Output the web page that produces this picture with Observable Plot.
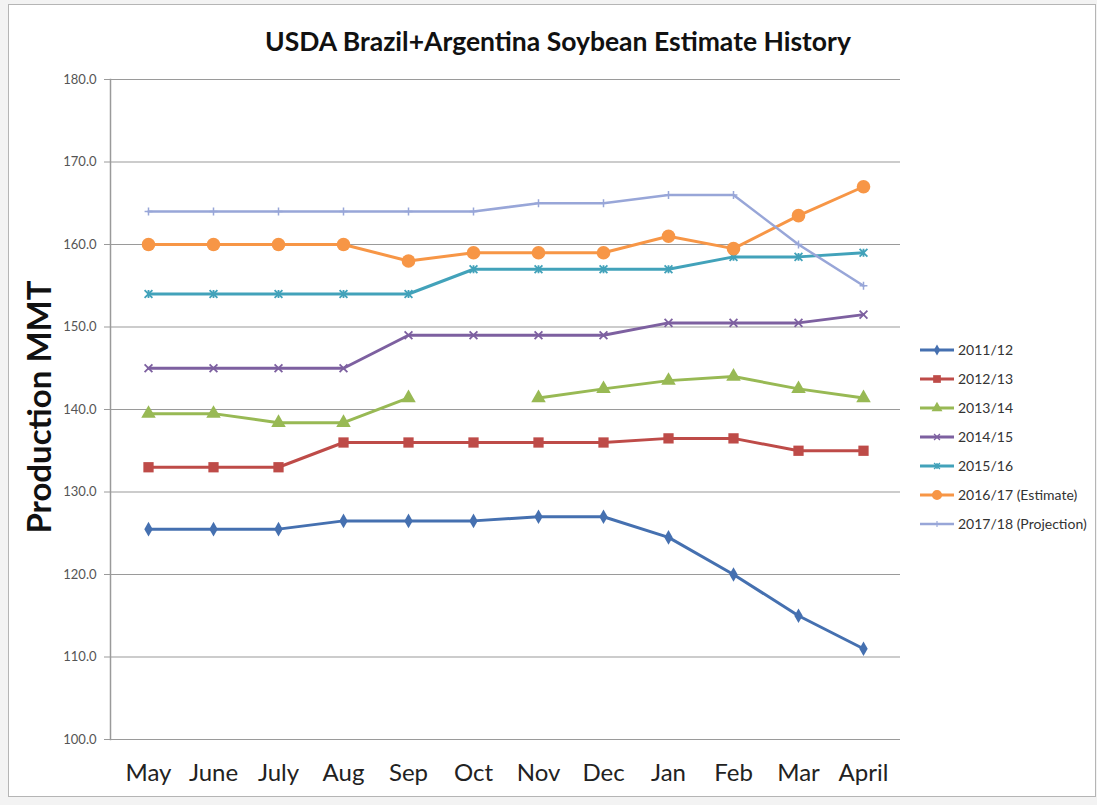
<!DOCTYPE html>
<html>
<head>
<meta charset="utf-8">
<script src="https://cdn.jsdelivr.net/npm/d3@7"></script>
<script src="https://cdn.jsdelivr.net/npm/@observablehq/plot@0.6"></script>
<style>
  body { margin: 0; background: #f3f3f3; }
  #wrap { position: relative; width: 1097px; height: 805px; background: #f3f3f3; font-family: Lato, "Open Sans", sans-serif; overflow: hidden; }
  #box { position: absolute; left: 8px; top: 4px; width: 1088px; height: 793px; background: #fff; border: 1px solid #b5b5b5; box-sizing: border-box; }
  #chart { position: absolute; left: 0; top: 0; }
  #title { position: absolute; left: 108px; width: 900px; top: 25px; text-align: center; font-weight: bold; font-size: 26.5px; color: #111; white-space: nowrap; }
  #ylabel { position: absolute; left: 38px; top: 407px; transform: translate(-50%, -50%) rotate(-90deg); font-weight: bold; font-size: 33px; color: #111; white-space: nowrap; }
  #legend { position: absolute; left: 919px; top: 335px; }
  .li { display: flex; align-items: center; height: 29px; font-size: 14px; color: #333; white-space: nowrap; }
  .li svg { margin-right: 3px; }
</style>
</head>
<body>
<div id="wrap">
  <div id="box"></div>
  <div id="chart"></div>
  <div id="title">USDA Brazil+Argentina Soybean Estimate History</div>
  <div id="ylabel">Production MMT</div>
  <div id="legend"></div>
</div>
<script>
const months = ["May", "June", "July", "Aug", "Sep", "Oct", "Nov", "Dec", "Jan", "Feb", "Mar", "April"];
const yTicks = [100, 110, 120, 130, 140, 150, 160, 170, 180];
const seriesNames = ["2011/12", "2012/13", "2013/14", "2014/15", "2015/16", "2016/17 (Estimate)", "2017/18 (Projection)"];
const s2011 = [125.5, 125.5, 125.5, 126.5, 126.5, 126.5, 127, 127, 124.5, 120, 115, 111];
const s2012 = [133, 133, 133, 136, 136, 136, 136, 136, 136.5, 136.5, 135, 135];
const s2013 = [139.5, 139.5, 138.4, 138.4, 141.4, null, 141.4, 142.5, 143.5, 144, 142.5, 141.4];
const s2014 = [145, 145, 145, 145, 149, 149, 149, 149, 150.5, 150.5, 150.5, 151.5];
const s2015 = [154, 154, 154, 154, 154, 157, 157, 157, 157, 158.5, 158.5, 159];
const s2016 = [160, 160, 160, 160, 158, 159, 159, 159, 161, 159.5, 163.5, 167];
const s2017 = [164, 164, 164, 164, 164, 164, 165, 165, 166, 166, 160, 155];
const seriesValues = [s2011, s2012, s2013, s2014, s2015, s2016, s2017];
const colors = ["#4570B0", "#BE4B48", "#98B954", "#7D60A0", "#42A2BA", "#F79646", "#98A6D8"];

// custom stroke-only symbols
const xSym = { draw(ctx, size) { const r = Math.sqrt(size) / 2; ctx.moveTo(-r, -r); ctx.lineTo(r, r); ctx.moveTo(r, -r); ctx.lineTo(-r, r); } };
const starSym = { draw(ctx, size) { const r = Math.sqrt(size) / 2; ctx.moveTo(-r, -r); ctx.lineTo(r, r); ctx.moveTo(r, -r); ctx.lineTo(-r, r); ctx.moveTo(0, -r); ctx.lineTo(0, r); } };
const plusSym = { draw(ctx, size) { const r = Math.sqrt(size) / 2; ctx.moveTo(-r, 0); ctx.lineTo(r, 0); ctx.moveTo(0, -r); ctx.lineTo(0, r); } };

const markerSpec = [
  { symbol: d3.symbolDiamond, r: 4.4, filled: true, sw: 0 },
  { symbol: d3.symbolSquare, r: 5.8, filled: true, sw: 0 },
  { symbol: d3.symbolTriangle, r: 5.4, filled: true, sw: 0 },
  { symbol: xSym, r: 4.4, filled: false, sw: 1.8 },
  { symbol: starSym, r: 4.4, filled: false, sw: 1.8 },
  { symbol: d3.symbolCircle, r: 6.8, filled: true, sw: 0 },
  { symbol: plusSym, r: 4.4, filled: false, sw: 1.5 }
];

const rows = [];
seriesNames.forEach((name, i) => {
  months.forEach((m, j) => rows.push({ series: name, month: m, value: seriesValues[i][j] }));
});

const marks = [
  Plot.ruleY(yTicks, { stroke: "#9a9a9a", strokeWidth: 1.2 }),
  Plot.frame({ anchor: "left", stroke: "#9a9a9a", strokeWidth: 1.5 }),
  Plot.axisY({ ticks: yTicks, tickSize: 6, tickPadding: 8, tickFormat: d => d.toFixed(1), stroke: "#9a9a9a", fill: "#555", fontSize: 13, label: null }),
  Plot.axisX({ tickSize: 0, tickPadding: 24, fontSize: 24, fill: "#222", label: null })
];
seriesNames.forEach((name, i) => {
  const data = rows.filter(d => d.series === name);
  marks.push(Plot.line(data, { x: "month", y: "value", stroke: colors[i], strokeWidth: i === 6 ? 2.5 : 3 }));
  const ms = markerSpec[i];
  marks.push(Plot.dot(data.filter(d => d.value != null), {
    x: "month", y: "value", symbol: ms.symbol, r: ms.r,
    fill: ms.filled ? colors[i] : "none",
    stroke: colors[i], strokeWidth: ms.filled ? 0 : ms.sw
  }));
});

const chart = Plot.plot({
  width: 1097, height: 805,
  marginLeft: 110, marginRight: 197, marginTop: 79, marginBottom: 66,
  x: { type: "point", domain: months, padding: 0.5 },
  y: { domain: [100, 180] },
  style: { background: "transparent", fontFamily: "Lato, 'Open Sans', sans-serif" },
  marks
});
document.getElementById("chart").appendChild(chart);

// legend
const legend = document.getElementById("legend");
seriesNames.forEach((name, i) => {
  const ms = markerSpec[i];
  const size = ms.r * ms.r * Math.PI;
  const path = d3.symbol(ms.symbol, size)();
  const item = document.createElement("div");
  item.className = "li";
  item.innerHTML = `<svg width="36" height="14"><line x1="1" x2="35" y1="7" y2="7" stroke="${colors[i]}" stroke-width="${i === 6 ? 2.5 : 3}"/>` +
    `<path transform="translate(18,7) scale(0.75)" d="${path}" fill="${ms.filled ? colors[i] : "none"}" stroke="${colors[i]}" stroke-width="${ms.filled ? 0 : ms.sw}"/></svg><span>${name}</span>`;
  legend.appendChild(item);
});
</script>
</body>
</html>
